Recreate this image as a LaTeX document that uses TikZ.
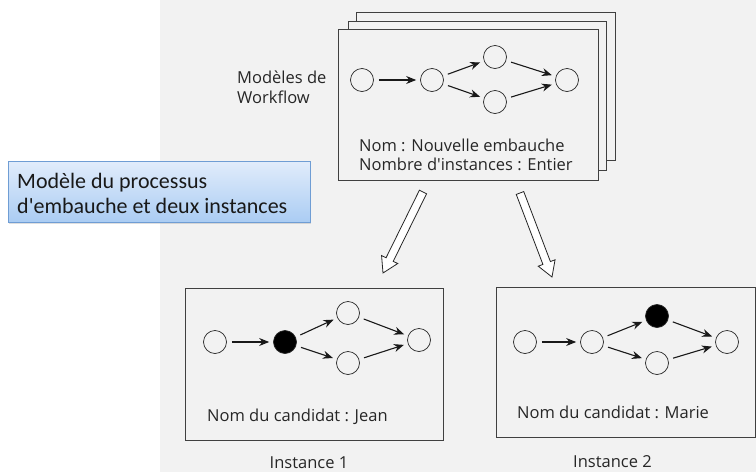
\documentclass[tikz,border=0pt]{standalone}
\usepackage{fontspec}
\newfontfamily\osans{Open Sans}
\newfontfamily\calib{Carlito}
\usetikzlibrary{arrows.meta,calc,shadows}
\definecolor{scan}{gray}{0.95}
\definecolor{bluebd}{HTML}{6F9DD4}
\definecolor{bluetop}{HTML}{E1ECFB}
\definecolor{bluebot}{HTML}{AACCF3}
\begin{document}
\begin{tikzpicture}[x=1pt,y=-1pt,
  st/.style={circle,draw=black!85,line width=0.7pt,minimum size=23pt,inner sep=0pt},
  act/.style={st,fill=black},
  fl/.style={-{Stealth[length=10pt,width=8pt]},line width=1.1pt,draw=black!90,shorten <=5pt,shorten >=4pt},
  box/.style={draw=black!75,line width=0.8pt,fill=scan,inner sep=0pt},
  lbl/.style={font=\osans\fontsize{16.5}{20}\selectfont,text=black!85,inner sep=0pt,anchor=base west},
  hollow/.style={draw=black!85,line width=0.8pt,fill=white,line join=miter}
]
\useasboundingbox (0,0) rectangle (756,472);
\fill[scan] (160,0) rectangle (756,472);

% stacked workflow models
\node[box,minimum width=259pt,minimum height=148pt] (back2) at (485.5,86) {};
\node[box,minimum width=258pt,minimum height=149pt] (back1) at (477,95.5) {};
\node[box,minimum width=260pt,minimum height=151pt] (model) at (468,104.5) {};

\node[lbl] (mwlabel1) at (237,83) {Modèles de};
\node[lbl] (mwlabel2) at (237,103) {Workflow};

\node[st] (m1) at (362,80) {};
\node[st] (m2) at (432,80) {};
\node[st] (m3) at (495,57) {};
\node[st] (m4) at (495,102) {};
\node[st] (m5) at (567,80) {};
\draw[fl] (m1) -- (m2);
\draw[fl] (m2) -- (m3);
\draw[fl] (m2) -- (m4);
\draw[fl] (m3) -- (m5);
\draw[fl] (m4) -- (m5);
\node[lbl] (mname) at (359,151) {Nom : Nouvelle embauche};
\node[lbl] (mcount) at (359,170) {Nombre d'instances : Entier};

% callout
\node[draw=bluebd,line width=0.8pt,top color=bluetop,bottom color=bluebot,
  drop shadow={opacity=0.25,shadow xshift=1pt,shadow yshift=-2pt},
  minimum width=302pt,minimum height=61pt,anchor=north west,inner sep=0pt] (note) at (8,161) {};
\node[font=\calib\fontsize{22}{25}\selectfont,anchor=base west,inner sep=0pt,text=black!90] (notetext1) at (17,188)
  {Modèle du processus};
\node[font=\calib\fontsize{22}{25}\selectfont,anchor=base west,inner sep=0pt,text=black!90] (notetext2) at (17,213)
  {d'embauche et deux instances};

% instance 1
\node[box,minimum width=258pt,minimum height=152pt] (inst1) at (314,364) {};
\node[st] (a1) at (215,342) {};
\node[act] (a2) at (285,342) {};
\node[st] (a3) at (348,313) {};
\node[st] (a4) at (348,363) {};
\node[st] (a5) at (419,340) {};
\draw[fl] (a1) -- (a2);
\draw[fl] (a2) -- (a3);
\draw[fl] (a2) -- (a4);
\draw[fl] (a3) -- (a5);
\draw[fl] (a4) -- (a5);
\node[lbl] (c1) at (207,421) {Nom du candidat : Jean};
\node[lbl,anchor=base] (i1) at (309,468) {Instance 1};

% instance 2
\node[box,minimum width=259pt,minimum height=150pt] (inst2) at (625.5,362) {};
\node[st] (b1) at (525,342) {};
\node[st] (b2) at (592,342) {};
\node[act] (b3) at (657,316) {};
\node[st] (b4) at (657,363) {};
\node[st] (b5) at (727,342) {};
\draw[fl] (b1) -- (b2);
\draw[fl] (b2) -- (b3);
\draw[fl] (b2) -- (b4);
\draw[fl] (b3) -- (b5);
\draw[fl] (b4) -- (b5);
\node[lbl] (c2) at (517,418) {Nom du candidat : Marie};
\node[lbl,anchor=base] (i2) at (612.5,467) {Instance 2};

% hollow arrows
\coordinate (h1s) at (423,192);
\coordinate (h1e) at (383,273);
\coordinate (h2s) at (520,193);
\coordinate (h2e) at (552,277);
\foreach \s/\e in {h1s/h1e,h2s/h2e}{
  \coordinate (hb) at ($(\e)!15pt!(\s)$);
  \draw[hollow] ($(\s)!4pt!90:(\e)$) -- ($(hb)!4pt!-90:(\s)$) -- ($(hb)!9pt!-90:(\s)$) -- (\e)
    -- ($(hb)!9pt!90:(\s)$) -- ($(hb)!4pt!90:(\s)$) -- ($(\s)!4pt!-90:(\e)$) -- cycle;
}
\end{tikzpicture}
\end{document}
